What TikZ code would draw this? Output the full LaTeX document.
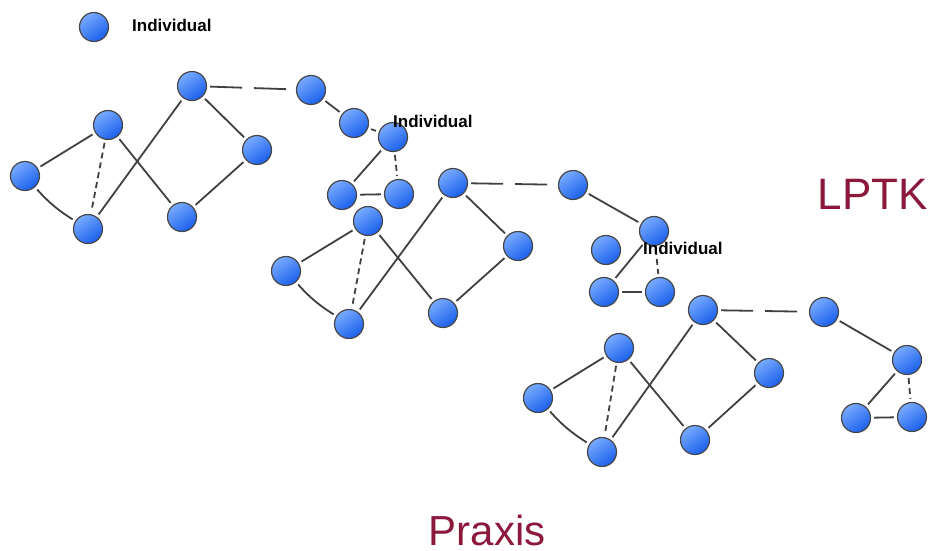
\documentclass[tikz,border=0pt]{standalone}
\usepackage{fontspec}
\setmainfont{Liberation Sans}
\usepackage{xcolor}
\usetikzlibrary{positioning}
\definecolor{ballhi}{RGB}{120,170,255}
\definecolor{balllo}{RGB}{25,95,235}
\definecolor{lptkred}{RGB}{140,25,60}

\begin{document}
\begin{tikzpicture}[x=1pt,y=-1pt,
	ind/.style={circle,draw=black!72,line width=1.2pt,minimum size=29pt,inner sep=0pt,top color=ballhi,bottom color=balllo,shading angle=35},
	link/.style={draw=black!75,line width=1.8pt,shorten >=3pt,shorten <=3pt},
	weak/.style={link,dash pattern=on 6pt off 4pt},
	far/.style={link,dash pattern=on 32pt off 12pt},
	tag/.style={font=\fontsize{17}{17}\selectfont\bfseries,inner sep=0pt,anchor=west},
	big/.style={text=lptkred,inner sep=0pt,anchor=base}]
	\useasboundingbox (0,0) rectangle (931,551);
	% legend
	\node[ind] (leg) at (94,27) {};
	% three groups
	\foreach \n/\x/\y in {a1/192/86,b1/108/125,c1/25/176,d1/88/229,e1/182/217,f1/257/150,g1/311/90,h1/354/123,i1/393/137,j1/342/195,k1/399/194,
	    a2/453/183,b2/368/221,c2/286/271,d2/349/324,e2/443/313,f2/518/246,g2/573/185,h2/606/250,i2/654/231,j2/604/292,k2/660/292,
	    a3/703/310,b3/619/348,c3/538/398,d3/602/452,e3/695/440,f3/769/373,g3/824/312,i3/907/360,j3/856/418,k3/912/417}
	    \node[ind] (\n) at (\x,\y) {};
	\foreach \c in {1,2,3}{
	    \draw[link] (c\c) -- (b\c);
	    \draw[link] (c\c) to[bend right=8] (d\c);
	    \draw[weak] (b\c) -- (d\c);
	    \draw[link] (b\c) -- (e\c);
	    \draw[link] (d\c) -- (a\c);
	    \draw[link] (a\c) -- (f\c);
	    \draw[link] (f\c) -- (e\c);
	    \draw[far] (a\c) -- (g\c);
	    \draw[link] (i\c) -- (j\c);
	    \draw[weak] (i\c) -- (k\c);
	    \draw[link] (j\c) -- (k\c);
	}
	\draw[link] (g1) -- (h1);
	\draw[link] (h1) -- (i1);
	\draw[link] (g2) -- (i2);
	\draw[link] (g3) -- (i3);
	% labels
	\node[tag] (legtxt) at (132,25) {Individual};
	\node[tag] (tag1) at (393,121) {Individual};
	\node[tag] (tag2) at (643,248) {Individual};
	\node[big,font=\fontsize{44}{44}\selectfont] (lptk) at (873,209) {LPTK};
	\node[big,font=\fontsize{42}{42}\selectfont] (praxis) at (487,545) {Praxis};
\end{tikzpicture}
\end{document}
